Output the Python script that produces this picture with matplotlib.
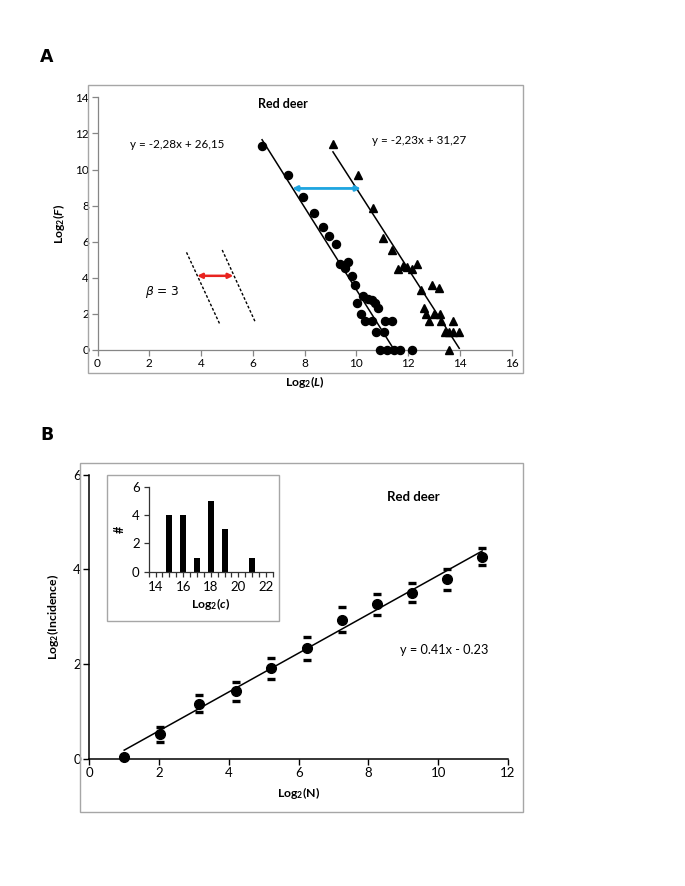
import matplotlib
matplotlib.use("Agg")
import matplotlib.pyplot as plt
from matplotlib.patches import Rectangle
import numpy as np

plt.rcParams['font.family'] = ['Lato', 'DejaVu Sans']
plt.rcParams['mathtext.fontset'] = 'custom'
plt.rcParams['mathtext.rm'] = 'Lato:bold'
plt.rcParams['mathtext.it'] = 'Lato:bold:italic'
plt.rcParams['mathtext.bf'] = 'Lato:bold'

# ---------------- Panel A data ----------------
circle_x = [6.36, 7.37, 7.95, 8.37, 8.70, 8.96, 9.20, 9.38, 9.55, 9.70, 9.83, 9.94,
            10.25, 10.45, 10.60, 10.72, 10.85, 10.04, 10.17, 10.32, 10.60, 11.10, 11.37,
            10.76, 11.06, 10.90, 11.18, 11.44, 11.70, 12.16]
circle_y = [11.30, 9.67, 8.49, 7.57, 6.79, 6.32, 5.86, 4.76, 4.55, 4.90, 4.09, 3.58,
            3.00, 2.85, 2.75, 2.58, 2.32, 2.58, 2.00, 1.58, 1.58, 1.58, 1.58,
            1.00, 1.00, 0.0, 0.0, 0.0, 0.0, 0.0]
tri_x = [9.10, 10.05, 10.63, 11.05, 11.37, 11.60, 11.82, 11.98, 12.16, 12.33,
         12.50, 12.92, 13.18, 12.60, 12.70, 13.02, 13.22, 12.82, 13.29, 13.75,
         13.43, 13.58, 13.74, 13.98, 13.60]
tri_y = [11.44, 9.72, 7.88, 6.18, 5.55, 4.46, 4.66, 4.62, 4.47, 4.76,
         3.30, 3.60, 3.45, 2.32, 2.00, 2.00, 2.00, 1.58, 1.58, 1.58,
         1.00, 1.00, 1.00, 1.00, 0.0]
fit_circle = (-2.28, 26.15)
fit_tri = (-2.23, 31.27)
eq_circle = "y = -2,28x + 26,15"
eq_tri = "y = -2,23x + 31,27"
beta_label = r"$\beta$ = 3"
# guide lines for beta illustration (data units)
guide1_x, guide1_y = [3.44, 4.73], [5.41, 1.42]
guide2_x, guide2_y = [4.82, 6.11], [5.54, 1.51]
red_arrow_x, red_arrow_y = [3.85, 5.25], 4.11
blue_arrow_x, blue_arrow_y = [7.52, 10.18], 8.95
A_xticks = [0, 2, 4, 6, 8, 10, 12, 14, 16]
A_yticks = [0, 2, 4, 6, 8, 10, 12, 14]

# ---------------- Panel B data ----------------
N_x = [1.0, 2.02, 3.15, 4.20, 5.21, 6.23, 7.25, 8.25, 9.25, 10.26, 11.26]
inc_y = [0.04, 0.52, 1.16, 1.42, 1.91, 2.33, 2.93, 3.26, 3.51, 3.79, 4.27]
err_hi = [0.04, 0.68, 1.34, 1.62, 2.13, 2.58, 3.20, 3.48, 3.72, 4.00, 4.44]
err_lo = [0.04, 0.35, 0.98, 1.21, 1.68, 2.08, 2.68, 3.03, 3.30, 3.57, 4.10]
fit_B = (0.41, -0.23)
eq_B = "y = 0.41x - 0.23"
B_xticks = [0, 2, 4, 6, 8, 10, 12]
B_yticks = [0, 2, 4, 6]

# inset histogram
hist_c = [15, 16, 17, 18, 19, 21]
hist_n = [4, 4, 1, 5, 3, 1]
inset_xticks = [14, 16, 18, 20, 22]
inset_yticks = [0, 2, 4, 6]

W, H = 685, 886
fig = plt.figure(figsize=(W / 100, H / 100), dpi=100)


def px_axes(x0, y0, x1, y1):
    return fig.add_axes([x0 / W, 1 - y1 / H, (x1 - x0) / W, (y1 - y0) / H])


def px_box(x0, y0, x1, y1, color='#a6a6a6'):
    fig.add_artist(Rectangle((x0 / W, 1 - y1 / H), (x1 - x0) / W, (y1 - y0) / H,
                             transform=fig.transFigure, fill=False,
                             edgecolor=color, lw=1.0))


GRAY = '#868686'

# ---- chart area borders ----
px_box(88, 85, 523, 373)
px_box(80, 463, 523, 812)

fig.text(47 / W, 1 - 57 / H, "A", fontsize=12.5, fontweight='bold', ha='center', va='center',
         family='DejaVu Sans')
fig.text(47 / W, 1 - 435 / H, "B", fontsize=12.5, fontweight='bold', ha='center', va='center',
         family='DejaVu Sans')

# ================= Panel A =================
axA = px_axes(97.5, 97.3, 511.5, 350)
axA.set_xlim(0, 16)
axA.set_ylim(0, 14)
axA.set_xticks(A_xticks)
axA.set_yticks(A_yticks)
for s in ['top', 'right']:
    axA.spines[s].set_visible(False)
for s in ['left', 'bottom']:
    axA.spines[s].set_color(GRAY)
    axA.spines[s].set_linewidth(0.9)
axA.tick_params(direction='out', length=4, width=0.9, color=GRAY, labelsize=8.5, pad=2)

axA.plot(circle_x, circle_y, 'o', color='black', ms=5.8, clip_on=False, zorder=3)
axA.plot(tri_x, tri_y, '^', color='black', ms=6.2, clip_on=False, zorder=3)

xl = np.array([min(circle_x), max(circle_x)])
axA.plot(xl, fit_circle[0] * xl + fit_circle[1], color='black', lw=1.1)
xl = np.array([min(tri_x), max(tri_x)])
axA.plot(xl, fit_tri[0] * xl + fit_tri[1], color='black', lw=1.1)

axA.plot(guide1_x, guide1_y, color='black', ls=(0, (2.0, 1.4)), lw=1.0)
axA.plot(guide2_x, guide2_y, color='black', ls=(0, (2.0, 1.4)), lw=1.0)

axA.annotate('', xy=(red_arrow_x[0], red_arrow_y), xytext=(red_arrow_x[1], red_arrow_y),
             arrowprops=dict(arrowstyle='<|-|>', color='#e8231f', lw=1.8,
                             mutation_scale=7, shrinkA=0, shrinkB=0))
axA.annotate('', xy=(blue_arrow_x[0], blue_arrow_y), xytext=(blue_arrow_x[1], blue_arrow_y),
             arrowprops=dict(arrowstyle='<|-|>', color='#1fa5e0', lw=2.0,
                             mutation_scale=7, shrinkA=0, shrinkB=0))

axA.text(7.18, 13.63, "Red deer", fontsize=9, fontweight='bold', ha='center', va='center')
axA.text(3.08, 11.4, eq_circle, fontsize=8.4, ha='center', va='center')
axA.text(12.44, 11.58, eq_tri, fontsize=8.4, ha='center', va='center')
axA.text(2.5, 3.23, beta_label, fontsize=8.8, ha='center', va='center',
         math_fontfamily='dejavusans', family=['DejaVu Sans'])

axA.set_xlabel(r"Log$_\mathrm{2}$($\mathit{L}$)", fontsize=8.8, fontweight='bold', labelpad=3)
axA.set_ylabel(r"Log$_\mathrm{2}$($\mathit{F}$)", fontsize=8.8, fontweight='bold', labelpad=6)

# ================= Panel B =================
axB = px_axes(89.3, 474.6, 508, 758.7)
axB.set_xlim(0, 12)
axB.set_ylim(0, 6)
axB.set_xticks(B_xticks)
axB.set_yticks(B_yticks)
for s in ['top', 'right']:
    axB.spines[s].set_visible(False)
for s in ['left', 'bottom']:
    axB.spines[s].set_color('black')
    axB.spines[s].set_linewidth(1.1)
axB.tick_params(direction='out', length=4, width=1.0, color='black', labelsize=9.5, pad=2)

xl = np.array([min(N_x), max(N_x)])
axB.plot(xl, fit_B[0] * xl + fit_B[1], color='black', lw=1.1, zorder=2)
axB.plot(N_x, inc_y, 'o', color='black', ms=7.0, clip_on=False, zorder=3)
axB.plot(N_x[1:], err_hi[1:], '_', color='black', ms=6.3, mew=2.4, zorder=3)
axB.plot(N_x[1:], err_lo[1:], '_', color='black', ms=6.3, mew=2.4, zorder=3)

axB.text(9.28, 5.52, "Red deer", fontsize=9.5, fontweight='bold', ha='center', va='center')
axB.text(10.16, 2.30, eq_B, fontsize=9.2, ha='center', va='center')

axB.set_xlabel(r"Log$_\mathrm{2}$(N)", fontsize=8.8, fontweight='bold', labelpad=4)
axB.set_ylabel(r"Log$_\mathrm{2}$(Incidence)", fontsize=8.8, fontweight='bold', labelpad=9)

# inset
px_box(106.7, 475, 279, 620.7)
axI = px_axes(148.6, 486.7, 272.9, 571.7)
axI.set_xlim(13.5, 22.5)
axI.set_ylim(0, 6)
axI.bar(hist_c, hist_n, width=0.43, color='black')
axI.set_xticks(inset_xticks)
axI.set_xticks(np.arange(13.5, 22.51, 0.5), minor=True)
axI.set_yticks(inset_yticks)
for s in ['top', 'right']:
    axI.spines[s].set_visible(False)
for s in ['left', 'bottom']:
    axI.spines[s].set_color('#333333')
    axI.spines[s].set_linewidth(0.9)
axI.tick_params(which='both', direction='out', length=3.5, width=0.9, color='#333333',
                labelsize=9.5, pad=3)
axI.tick_params(which='minor', length=3.5)
axI.set_xlabel(r"Log$_\mathrm{2}$($\mathit{c}$)", fontsize=8.8, fontweight='bold', labelpad=2)
axI.set_ylabel("#", fontsize=9, fontweight='bold', labelpad=4)

fig.savefig("out.png", dpi=100)
